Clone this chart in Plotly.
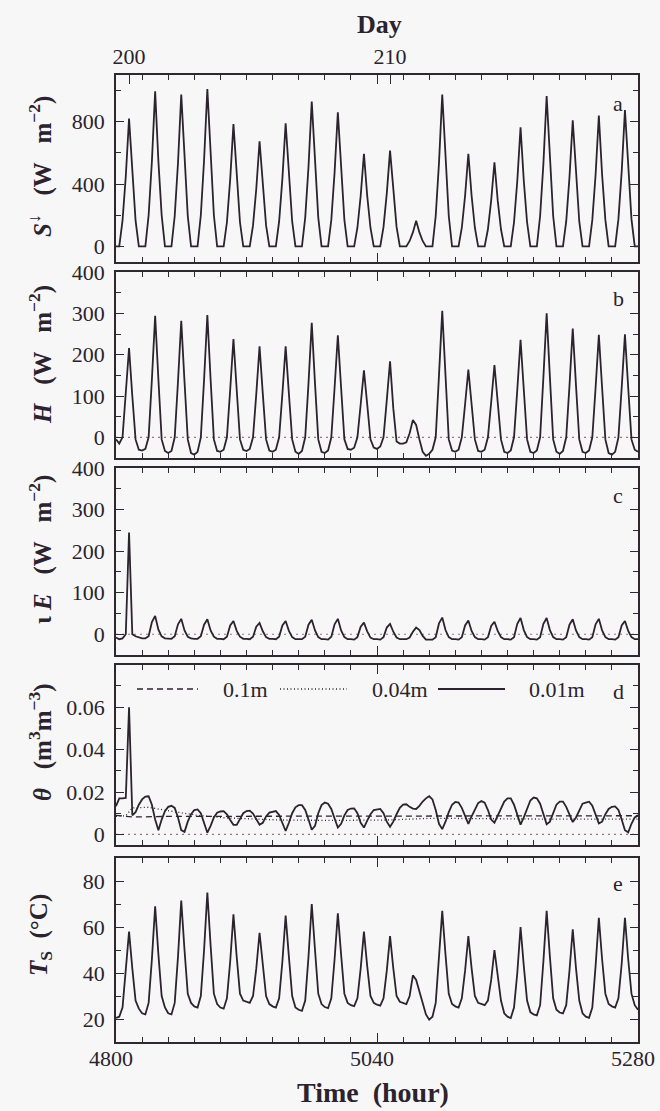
import plotly.graph_objects as go

# ---------------- data ----------------
HOURS = list(range(4800, 5281, 3))   # 3-hourly time stamps, hour of year

# downward shortwave S (W m-2), 8 values per day (00,03,...,21 h) + final point
S_DOWN = [
    0, 0, 165, 450, 820, 450, 165, 0,
    0, 0, 200, 545, 995, 545, 200, 0,
    0, 0, 195, 535, 975, 535, 195, 0,
    0, 0, 200, 555, 1010, 555, 200, 0,
    0, 0, 155, 430, 785, 430, 155, 0,
    0, 0, 135, 370, 675, 370, 135, 0,
    0, 0, 160, 435, 790, 435, 160, 0,
    0, 0, 185, 510, 930, 510, 185, 0,
    0, 0, 170, 475, 860, 475, 170, 0,
    0, 0, 120, 325, 595, 325, 120, 0,
    0, 0, 125, 340, 615, 340, 125, 0,
    0, 0, 35, 90, 165, 90, 35, 0,
    0, 0, 195, 535, 975, 535, 195, 0,
    0, 0, 120, 325, 595, 325, 120, 0,
    0, 0, 110, 295, 540, 295, 110, 0,
    0, 0, 155, 420, 765, 420, 155, 0,
    0, 0, 195, 530, 965, 530, 195, 0,
    0, 0, 160, 445, 810, 445, 160, 0,
    0, 0, 170, 460, 840, 460, 170, 0,
    0, 0, 175, 480, 875, 480, 175, 0,
    0,
]

# sensible heat flux H (W m-2)
H_FLUX = [
    -5, -15, 0, 105, 216, 100, -5, -30,
    -32, -28, 0, 140, 294, 140, -5, -33,
    -38, -33, 0, 135, 282, 135, -5, -38,
    -42, -35, 0, 140, 296, 140, -5, -33,
    -35, -30, 0, 115, 238, 115, -5, -30,
    -33, -28, 0, 105, 220, 105, -5, -32,
    -35, -30, 0, 105, 220, 105, -5, -35,
    -40, -33, 0, 130, 277, 130, -5, -35,
    -38, -32, 0, 120, 247, 120, -5, -28,
    -30, -25, 0, 80, 162, 80, -5, -25,
    -28, -22, 0, 90, 184, 70, -10, -15,
    -15, -12, 10, 42, 30, -5, -35, -45,
    -40, -30, 0, 150, 306, 150, -5, -32,
    -35, -30, 0, 80, 164, 80, -5, -33,
    -35, -30, 0, 85, 175, 85, -5, -35,
    -38, -32, 0, 115, 236, 115, -5, -35,
    -38, -32, 0, 145, 300, 145, -5, -35,
    -40, -33, 0, 125, 263, 125, -5, -35,
    -38, -32, 0, 120, 248, 120, -5, -38,
    -42, -35, 0, 120, 249, 120, -5, -30,
    -35,
]

# latent heat flux (W m-2)
LE_FLUX = [
    -8, -12, -10, 0, 245, 0, -5, -8,
    -10, -10, -5, 29, 44, 11, -5, -10,
    -10, -11, -5, 24, 37, 9, -6, -10,
    -11, -11, -5, 23, 36, 9, -6, -11,
    -11, -12, -6, 21, 32, 8, -6, -11,
    -11, -12, -6, 18, 27, 7, -7, -11,
    -11, -12, -6, 21, 32, 8, -7, -12,
    -12, -12, -6, 23, 35, 9, -7, -12,
    -12, -13, -6, 24, 37, 9, -7, -12,
    -12, -13, -7, 18, 28, 7, -8, -12,
    -12, -13, -7, 16, 25, 6, -8, -12,
    -12, -12, -8, 6, 16, 10, -4, -13,
    -13, -13, -7, 26, 40, 10, -7, -12,
    -12, -13, -7, 21, 33, 8, -7, -12,
    -12, -13, -7, 20, 30, 8, -7, -12,
    -12, -13, -7, 25, 39, 10, -7, -12,
    -12, -13, -7, 25, 39, 10, -7, -12,
    -12, -13, -7, 23, 36, 9, -7, -12,
    -12, -13, -7, 24, 37, 9, -7, -12,
    -12, -13, -7, 21, 32, 8, -7, -12,
    -12,
]

# soil water content at 0.01 m (m3 m-3)
THETA_001 = [
    0.0133, 0.0170, 0.0170, 0.0172, 0.0600, 0.0090, 0.0105, 0.0140,
    0.0165, 0.0178, 0.0180, 0.0140, 0.0070, 0.0020, 0.0070, 0.0110,
    0.0130, 0.0135, 0.0125, 0.0080, 0.0020, 0.0012, 0.0060, 0.0095,
    0.0115, 0.0118, 0.0100, 0.0055, 0.0008, 0.0040, 0.0080, 0.0102,
    0.0108, 0.0110, 0.0095, 0.0068, 0.0045, 0.0045, 0.0075, 0.0100,
    0.0110, 0.0112, 0.0098, 0.0070, 0.0046, 0.0055, 0.0085, 0.0103,
    0.0108, 0.0110, 0.0092, 0.0055, 0.0016, 0.0055, 0.0100, 0.0128,
    0.0138, 0.0138, 0.0115, 0.0070, 0.0022, 0.0040, 0.0100, 0.0138,
    0.0150, 0.0145, 0.0120, 0.0075, 0.0032, 0.0050, 0.0090, 0.0115,
    0.0122, 0.0123, 0.0100, 0.0055, 0.0032, 0.0065, 0.0095, 0.0115,
    0.0118, 0.0120, 0.0100, 0.0060, 0.0036, 0.0060, 0.0095, 0.0125,
    0.0140, 0.0142, 0.0130, 0.0122, 0.0120, 0.0135, 0.0155, 0.0170,
    0.0180, 0.0165, 0.0115, 0.0050, 0.0025, 0.0060, 0.0105, 0.0140,
    0.0153, 0.0150, 0.0125, 0.0085, 0.0050, 0.0085, 0.0120, 0.0148,
    0.0157, 0.0150, 0.0115, 0.0070, 0.0055, 0.0090, 0.0125, 0.0155,
    0.0170, 0.0170, 0.0140, 0.0090, 0.0046, 0.0080, 0.0125, 0.0160,
    0.0174, 0.0170, 0.0145, 0.0095, 0.0048, 0.0060, 0.0105, 0.0140,
    0.0155, 0.0155, 0.0130, 0.0090, 0.0058, 0.0080, 0.0115, 0.0145,
    0.0150, 0.0154, 0.0135, 0.0090, 0.0052, 0.0060, 0.0095, 0.0120,
    0.0130, 0.0132, 0.0115, 0.0070, 0.0020, 0.0010, 0.0050, 0.0080,
    0.0090,
]

# soil water content at 0.1 m and 0.04 m (smooth, sparse points)
THETA_010_HOURS = [4800, 4815, 4850, 4950, 5050, 5150, 5280]
THETA_010 = [0.0090, 0.0082, 0.0085, 0.0085, 0.0085, 0.0086, 0.0088]
THETA_004_HOURS = [4800, 4809, 4815, 4830, 4850, 4875, 4900, 4950, 5000,
                   5050, 5090, 5150, 5200, 5280]
THETA_004 = [0.0085, 0.0088, 0.0125, 0.0128, 0.0110, 0.0090, 0.0078, 0.0068,
             0.0066, 0.0068, 0.0076, 0.0073, 0.0072, 0.0072]

# surface temperature Ts (deg C)
TS = [
    20.5, 21, 25, 40, 58, 42, 28, 24.5,
    22.5, 22, 27, 46, 69, 48, 30, 25,
    22.5, 22, 27, 47, 71.5, 50, 31, 27,
    25.5, 25, 30, 50, 75, 52, 31, 26.5,
    25, 24.5, 29, 45, 65.5, 47, 31, 28,
    27.5, 27, 30, 42, 57.5, 43, 30, 26.5,
    25.5, 25, 29, 45, 65, 47, 30, 25,
    24, 23.5, 28, 47, 70, 50, 31, 26.5,
    25.2, 24.7, 29, 46, 66, 48, 31, 27,
    26, 25.6, 29, 42, 58, 43, 30, 27,
    26.2, 25.8, 29, 41, 56, 42, 30, 27.5,
    27, 26.5, 30, 39, 37, 32, 26, 22,
    19.7, 21, 27, 45, 67, 48, 31, 26.5,
    25.5, 25, 29, 41, 56, 42, 30, 27,
    26.5, 26, 28, 37, 50, 38, 28, 22.5,
    21, 20.4, 25, 40, 60, 43, 28, 23,
    22, 21.6, 26, 45, 67, 47, 29, 24,
    22.8, 22.4, 26, 41, 59, 42, 28, 22.5,
    21, 20.5, 25, 43, 64, 46, 31, 26.5,
    25.5, 25, 29, 44, 64, 46, 31, 26,
    24,
]

X_TICK_HOURS = [4800, 5040, 5280]
DAY_TICKS = [200, 210]
PANEL_LABELS = ["a", "b", "c", "d", "e"]
LEGEND_NAMES = ["0.1m", "0.04m", "0.01m"]

# ---------------- layout geometry (pixels of the 660x1111 page) ----------------
W, H = 660, 1111
PL, PR, PT, PB = 116, 638, 75, 1042          # plot area
PANELS = [(75, 262), (272, 458), (468, 655), (665, 845), (858, 1042)]


def fy(p):
    return (PB - p) / (PB - PT)


def fx(p):
    return (p - PL) / (PR - PL)


INK = "#2b232d"
FRAME = "#30282f"
ZERO = "#9c6e88"
BG = "#f8f7f8"
FONT = "Liberation Serif, Times New Roman, Times, serif"
LW = 1.8

fig = go.Figure()


def line_trace(x, y, ax, width=LW, dash="solid", color=INK):
    fig.add_trace(go.Scatter(
        x=x, y=y, xaxis="x" + ax, yaxis="y" + ax, mode="lines",
        line=dict(color=color, width=width, dash=dash),
        showlegend=False, hoverinfo="skip"))


line_trace(HOURS, S_DOWN, "")
line_trace(HOURS, H_FLUX, "2")
line_trace(HOURS, LE_FLUX, "3")
line_trace(THETA_010_HOURS, THETA_010, "4", width=1.3, dash="6px,4px")
line_trace(THETA_004_HOURS, THETA_004, "4", width=1.3, dash="1px,2.5px")
line_trace(HOURS, THETA_001, "4")
line_trace(HOURS, TS, "5")

tickfont = dict(family=FONT, size=22, color=INK)

layout = dict(
    width=W, height=H,
    margin=dict(l=PL, r=W - PR, t=PT, b=H - PB, pad=0, autoexpand=False),
    paper_bgcolor=BG, plot_bgcolor=BG,
    showlegend=False,
    font=dict(family=FONT, color=INK),
)

YSPEC = [
    dict(range=[-100, 1100], tick0=0, dtick=400, minor=200),
    dict(range=[-50, 400], tick0=0, dtick=100, minor=50),
    dict(range=[-50, 400], tick0=0, dtick=100, minor=50),
    dict(range=[-0.005, 0.0799], tick0=0, dtick=0.02, minor=0.01),
    dict(range=[10, 90], tick0=20, dtick=20, minor=10),
]

for i, (top, bot) in enumerate(PANELS):
    sfx = "" if i == 0 else str(i + 1)
    ys = YSPEC[i]
    layout["xaxis" + sfx] = dict(
        domain=[0, 1], anchor="y" + sfx, range=[4800, 5280],
        tickmode="array", tickvals=X_TICK_HOURS, tickformat="d",
        ticks="inside", ticklen=9, tickwidth=1.4, tickcolor=FRAME,
        showticklabels=(i == 4), tickfont=tickfont, ticklabelstandoff=-4,
        ticklabelshift=-5,
        showline=True, linecolor=FRAME, linewidth=1.8, mirror="ticks",
        showgrid=False, zeroline=False,
        minor=dict(ticks="inside", tick0=4800, dtick=24, ticklen=5,
                   tickwidth=1.2, tickcolor=FRAME, showgrid=False),
    )
    if i > 0:
        layout["xaxis" + sfx]["matches"] = "x"
    layout["yaxis" + sfx] = dict(
        domain=[fy(bot), fy(top)], anchor="x" + sfx, range=ys["range"],
        tickmode="linear", tick0=ys["tick0"], dtick=ys["dtick"],
        ticks="inside", ticklen=8, tickwidth=1.4, tickcolor=FRAME,
        tickfont=tickfont, ticklabelstandoff=5,
        showline=True, linecolor=FRAME, linewidth=1.8, mirror="ticks",
        showgrid=False, zeroline=False,
        minor=dict(ticks="inside", dtick=ys["minor"], tick0=ys["tick0"],
                   ticklen=5, tickwidth=1.2, tickcolor=FRAME, showgrid=False),
    )

# top "Day" axis
layout["xaxis6"] = dict(
    overlaying="x", side="top", anchor="y", range=[199.5, 219.5],
    tickmode="array", tickvals=DAY_TICKS, tickformat="d",
    ticks="inside", ticklen=9, tickwidth=1.4, tickcolor=FRAME,
    tickfont=tickfont, ticklabelstandoff=6,
    showline=False, showgrid=False, zeroline=False,
)
fig.add_trace(go.Scatter(x=[], y=[], xaxis="x6", yaxis="y",
                         showlegend=False, hoverinfo="skip"))

fig.update_layout(**layout)

# dotted zero reference lines in panels b, c, d
for ax in ["2", "3", "4"]:
    fig.add_shape(type="line", xref="x" + ax + " domain", x0=0, x1=1,
                  yref="y" + ax, y0=0, y1=0,
                  line=dict(color=ZERO, width=1.1, dash="2px,4px"), layer="below")

ann = []
NB = "\u00a0"
Y_TITLES = [
    "<i>S</i><sup>↓</sup>" + NB * 3 + "(W" + NB * 3 + "m<sup>−2</sup>)",
    "<i>H</i>" + NB * 3 + "(W" + NB * 3 + "m<sup>−2</sup>)",
    "ι" + NB + "<i>E</i>" + NB * 3 + "(W" + NB * 3 + "m<sup>−2</sup>)",
    "<i>θ</i>" + NB * 3 + "(m<sup>3</sup>m<sup>−3</sup>)",
    "<i>T</i><sub>S</sub>" + NB * 2 + "(°C)",
]
Y_TITLE_CENTERS = [167, 355, 550, 742, 935]
for txt, yc in zip(Y_TITLES, Y_TITLE_CENTERS):
    ann.append(dict(text="<b>" + txt + "</b>", x=fx(40), y=fy(yc),
                    xref="paper", yref="paper", textangle=-90,
                    xanchor="center", yanchor="middle", showarrow=False,
                    font=dict(family=FONT, size=25, color=INK)))

ann.append(dict(text="<b>Day</b>", x=fx(379), y=fy(25), xref="paper", yref="paper",
                xanchor="center", yanchor="middle", showarrow=False,
                font=dict(family=FONT, size=26, color=INK)))
ann.append(dict(text="<b>Time" + NB * 2 + "(hour)</b>", x=fx(373), y=fy(1092),
                xref="paper", yref="paper", xanchor="center", yanchor="middle",
                showarrow=False, font=dict(family=FONT, size=28, color=INK)))

# panel letters
LABEL_Y = [103, 298, 495, 691, 883]
for lab, yc in zip(PANEL_LABELS, LABEL_Y):
    ann.append(dict(text=lab, x=fx(618), y=fy(yc), xref="paper", yref="paper",
                    xanchor="center", yanchor="middle", showarrow=False,
                    font=dict(family=FONT, size=22, color=INK)))

# legend of panel d (drawn by hand)
LEG_Y = 689
LEG_SAMPLES = [(137, 198, "6px,4px", 1.3), (280, 347, "1px,2.5px", 1.3), (438, 505, "solid", LW)]
LEG_TEXT_X = [245, 400, 557]
for (x0, x1, dash, wdt), name, tx in zip(LEG_SAMPLES, LEGEND_NAMES, LEG_TEXT_X):
    fig.add_shape(type="line", xref="paper", yref="paper",
                  x0=fx(x0), x1=fx(x1), y0=fy(LEG_Y), y1=fy(LEG_Y),
                  line=dict(color=INK, width=wdt, dash=dash))
    ann.append(dict(text=name, x=fx(tx), y=fy(LEG_Y), xref="paper", yref="paper",
                    xanchor="center", yanchor="middle", showarrow=False,
                    font=dict(family=FONT, size=22, color=INK)))

fig.update_layout(annotations=ann)
fig.write_html(
    "out.html",
    config={"displayModeBar": False},
    post_script="document.body.style.margin='0px';"
                "document.body.style.overflow='hidden';",
)
